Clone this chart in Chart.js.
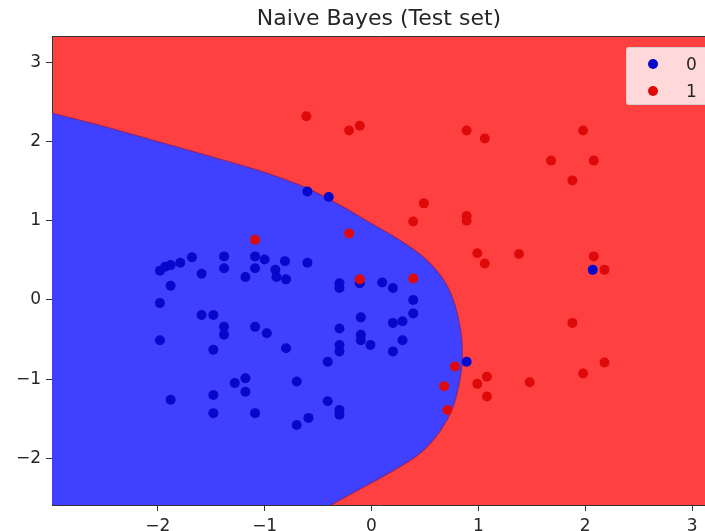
<!DOCTYPE html>
<html>
<head>
<meta charset="utf-8">
<script src="https://cdn.jsdelivr.net/npm/chart.js@4.4.0/dist/chart.umd.min.js"></script>
<style>
html,body{margin:0;padding:0;background:#fff;overflow:hidden;width:705px;height:531px;}
#wrap{position:relative;width:711px;height:560px;}
canvas{display:block;}
#legend{position:absolute;left:626px;top:47px;width:84px;height:58px;background:rgba(255,255,255,0.8);border:1px solid rgba(204,204,204,0.8);border-radius:3px;box-sizing:border-box;font-family:'DejaVu Sans',sans-serif;font-size:17px;color:#262626;}
.item{position:absolute;left:0;width:84px;height:22px;}
.dot{position:absolute;left:21px;top:6px;width:10px;height:10px;border-radius:50%;}
.lab{position:absolute;left:59px;top:0;line-height:22px;}
</style>
</head>
<body>
<div id="wrap">
<canvas id="c" width="711" height="560"></canvas>
<div id="legend"></div>
</div>
<script>
// ---- data ----
const TITLE = 'Naive Bayes (Test set)';
const SERIES_NAMES = ['0', '1'];

const X_TICKS = [-2, -1, 0, 1, 2, 3];
const X_TICK_LABELS = ['\u22122', '\u22121', '0', '1', '2', '3'];
const Y_TICKS = [-2, -1, 0, 1, 2, 3];
const Y_TICK_LABELS = ['\u22122', '\u22121', '0', '1', '2', '3'];
const X_RANGE = [-2.99, 3.13];
const Y_RANGE = [-2.59, 3.33];

// class 0 (blue) test points
const class0X = [-1.98,-1.93,-1.88,-1.79,-1.68,-1.59,-1.38,-1.38,-1.18,-1.09,-1.00,-1.09,-0.90,-0.89,-0.81,-0.80,-0.60,-1.88,-1.98,-1.59,-1.48,-1.38,-1.38,-1.09,-0.98,-1.98,-1.48,-0.80,-0.30,-0.30,-0.30,-0.30,-0.30,-0.41,-1.28,-1.18,-1.18,-0.70,-1.88,-1.48,-1.48,-1.09,-0.41,-0.30,-0.30,-0.70,-0.59,-0.60,-0.40,-0.11,0.10,0.20,0.39,0.39,0.29,0.20,-0.10,-0.10,-0.10,-0.01,0.29,0.20,0.89,2.07];
const class0Y = [0.37,0.42,0.44,0.47,0.54,0.33,0.55,0.40,0.29,0.55,0.51,0.40,0.38,0.29,0.49,0.26,0.47,0.18,-0.04,-0.19,-0.19,-0.34,-0.44,-0.34,-0.42,-0.51,-0.63,-0.61,0.21,0.15,-0.36,-0.57,-0.65,-0.78,-1.05,-0.99,-1.16,-1.03,-1.26,-1.20,-1.43,-1.43,-1.28,-1.39,-1.45,-1.58,-1.49,1.37,1.30,0.21,0.22,0.15,0.00,-0.17,-0.27,-0.29,-0.22,-0.44,-0.51,-0.57,-0.51,-0.65,-0.78,0.38];

// class 1 (red) test points
const class1X = [-0.61,-0.21,-0.11,0.89,1.06,0.49,0.39,0.89,0.89,-0.21,-1.09,-0.11,0.39,0.99,1.06,0.78,0.68,0.71,1.08,0.99,1.08,1.48,1.88,2.18,1.98,2.18,1.98,1.68,2.08,1.88,1.38,2.08];
const class1Y = [2.32,2.14,2.20,2.14,2.04,1.22,0.99,1.06,1.00,0.84,0.76,0.26,0.27,0.59,0.46,-0.84,-1.09,-1.39,-0.97,-1.06,-1.22,-1.04,-0.29,-0.79,-0.93,0.38,2.14,1.76,1.76,1.51,0.58,0.55];

// outline of the class-0 (blue) decision region,
// going along the boundary from the top-left edge round the tip and back
// to the bottom edge, then closing outside the plot area
const regionX = [-3.10,-2.99,-2.5,-2.0,-1.5,-1.0,-0.6,-0.3,-0.07,0.21,0.46,0.65,0.76,0.83,0.85,0.83,0.76,0.65,0.46,0.21,-0.07,-0.38,-0.55,-3.10];
const regionY = [2.40,2.36,2.19,2.00,1.81,1.61,1.41,1.20,1.02,0.80,0.57,0.30,0.02,-0.35,-0.67,-0.99,-1.36,-1.64,-1.93,-2.15,-2.36,-2.59,-2.72,-2.72];

// ---- styles ----
const RED_BG = 'rgb(255,64,64)';
const BLUE_BG = 'rgb(64,64,255)';
const EDGE = 'rgba(130,30,110,0.7)';
const BLUE_PT = 'rgb(8,8,205)';
const RED_PT = 'rgb(222,10,10)';
const TEXT = '#262626';
const FONT = "'DejaVu Sans', sans-serif";

const pts = (xs, ys) => xs.map((x, i) => ({x: x, y: ys[i]}));

const bgPlugin = {
  id: 'regionBg',
  beforeDraw(chart) {
    const {ctx, chartArea: a} = chart;
    ctx.save();
    ctx.fillStyle = RED_BG;
    ctx.fillRect(a.left, a.top, a.right - a.left, a.bottom - a.top);
    ctx.restore();
  }
};

const axisCommon = (ticks, labels) => ({
  type: 'linear',
  z: 1,
  afterBuildTicks: s => { s.ticks = ticks.map(v => ({value: v})); },
  ticks: {
    autoSkip: false, maxRotation: 0, padding: 5, color: TEXT,
    font: {family: FONT, size: 17},
    callback: v => labels[ticks.indexOf(v)]
  },
  grid: {drawOnChartArea: false, drawTicks: true, tickLength: 6, tickColor: '#333', tickWidth: 1},
  border: {display: true, color: '#333', width: 1}
});

const xAxis = Object.assign(axisCommon(X_TICKS, X_TICK_LABELS), {
  position: 'bottom', min: X_RANGE[0], max: X_RANGE[1],
  afterFit: s => { s.height = 55; }
});
const yAxis = Object.assign(axisCommon(Y_TICKS, Y_TICK_LABELS), {
  position: 'left', min: Y_RANGE[0], max: Y_RANGE[1],
  afterFit: s => { s.width = 52; }
});

const chart = new Chart(document.getElementById('c'), {
  type: 'scatter',
  data: {
    datasets: [
      {label: 'region0', type: 'line', data: pts(regionX, regionY), order: 4,
       fill: 'shape', backgroundColor: BLUE_BG, borderColor: EDGE, borderWidth: 1.3,
       pointRadius: 0, tension: 0.35, capBezierPoints: false},
      {label: SERIES_NAMES[0], data: pts(class0X, class0Y), order: 2,
       backgroundColor: BLUE_PT, borderColor: BLUE_PT, borderWidth: 0, pointRadius: 5},
      {label: SERIES_NAMES[1], data: pts(class1X, class1Y), order: 1,
       backgroundColor: RED_PT, borderColor: RED_PT, borderWidth: 0, pointRadius: 5}
    ]
  },
  options: {
    responsive: false,
    animation: false,
    layout: {padding: 0},
    plugins: {
      legend: {display: false},
      tooltip: {enabled: false},
      title: {
        display: true, text: TITLE, fullSize: false, color: TEXT,
        font: {family: FONT, size: 22, weight: 'normal', lineHeight: 1.15},
        padding: {top: 7, bottom: 4}
      }
    },
    scales: {
      x: xAxis,
      y: yAxis,
      xTop: {
        type: 'linear', position: 'top', min: X_RANGE[0], max: X_RANGE[1], z: 1,
        ticks: {display: false},
        grid: {drawOnChartArea: false, drawTicks: false},
        border: {display: true, color: '#333', width: 1},
        afterFit: s => { s.height = 0; }
      }
    }
  },
  plugins: [bgPlugin]
});

// HTML legend built from the scatter datasets
const legend = document.getElementById('legend');
chart.data.datasets.filter(d => SERIES_NAMES.includes(d.label)).forEach((d, i) => {
  const it = document.createElement('div');
  it.className = 'item';
  it.style.top = (5 + i * 27) + 'px';
  const dot = document.createElement('span');
  dot.className = 'dot';
  dot.style.background = d.backgroundColor;
  const lab = document.createElement('span');
  lab.className = 'lab';
  lab.textContent = d.label;
  it.appendChild(dot); it.appendChild(lab);
  legend.appendChild(it);
});
</script>
</body>
</html>
